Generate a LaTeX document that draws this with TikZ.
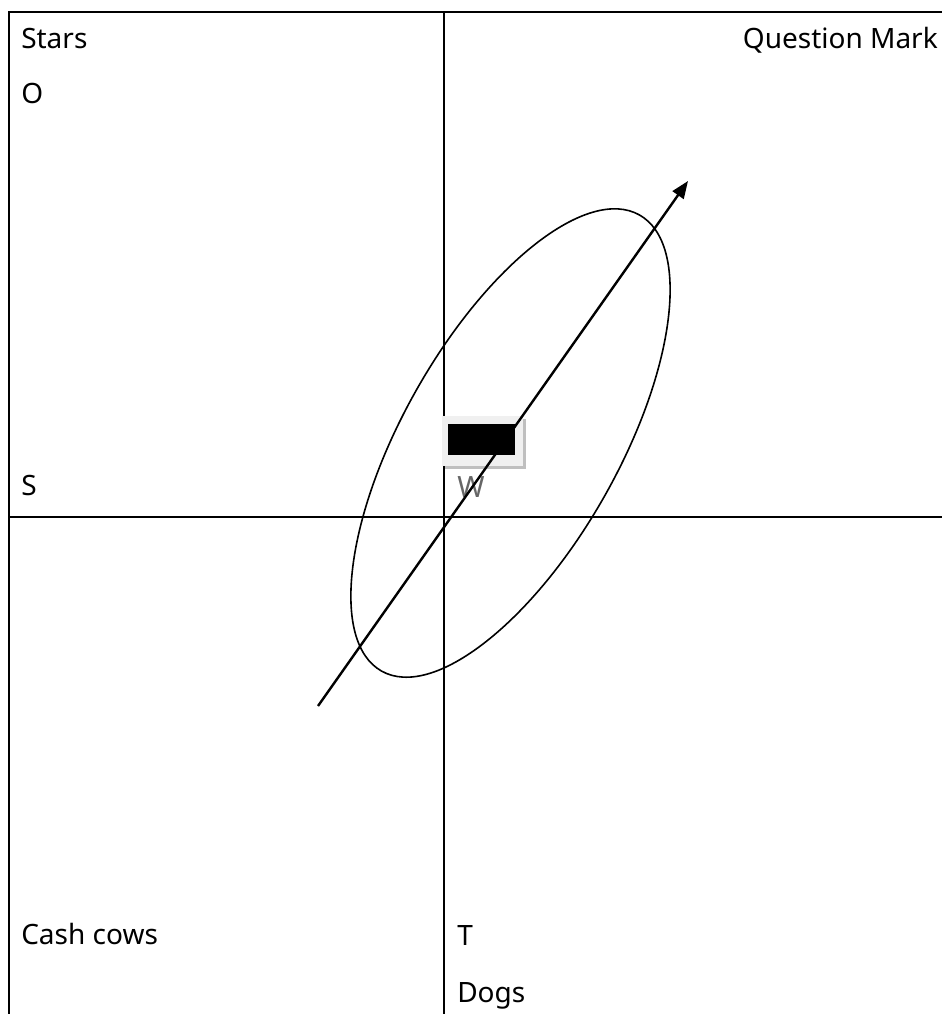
\documentclass[tikz,border=0pt]{standalone}
\usepackage{fontspec}
\setmainfont{Noto Sans}
\usetikzlibrary{arrows.meta}
\begin{document}
\begin{tikzpicture}[x=0.75pt,y=-0.75pt,
  frame/.style={line width=1.8pt,black},
  lbl/.style={inner sep=0pt,font=\fontsize{21pt}{25pt}\selectfont},
  wlbl/.style={inner sep=0pt,text=black!60,font=\fontsize{22pt}{26pt}\selectfont}]
\useasboundingbox (0,0) rectangle (942,1014);
% frame and axes
\coordinate (tl) at (9,12);
\coordinate (tr) at (942,12);
\coordinate (bl) at (9,1014);
\coordinate (vt) at (444,12);
\coordinate (vb) at (444,1014);
\coordinate (hl) at (9,517);
\coordinate (hr) at (942,517);
\draw[frame] (tr) -- (tl) -- (bl);
\draw[frame] (vt) -- (vb);
\draw[frame] (hl) -- (hr);
% labels
\node[lbl,anchor=base west] (stars) at (21,48) {Stars};
\node[lbl,anchor=base west] (o) at (21,103) {O};
\node[lbl,anchor=base east] (qm) at (938,48) {Question Mark};
\node[lbl,anchor=base west] (s) at (21,495) {S};
\node[lbl,anchor=base west] (cash) at (21,944) {Cash cows};
\node[lbl,anchor=base west] (t) at (457,945) {T};
\node[lbl,anchor=base west] (dogs) at (457,1002) {Dogs};
% ellipse
\coordinate (c) at (510.5,443);
\draw[line width=1.2pt,rotate around={60.5:(c)}] (c) ellipse [x radius=262, y radius=108];
% box with shadow
\fill[black!25] (445,419) rectangle (526,469);
\fill[black!6] (442,416) rectangle (523,466);
\node[draw=none,fill=black,minimum width=50.25pt,minimum height=23.25pt,inner sep=0pt,anchor=north west] (box) at (448,424) {};
\node[wlbl,anchor=base west] (w) at (457,497) {W};
% arrow
\coordinate (a0) at (318,706);
\coordinate (a1) at (688,181);
\draw[line width=1.8pt,-{Triangle[length=13pt,width=10pt]}] (a0) -- (a1);
\end{tikzpicture}
\end{document}
